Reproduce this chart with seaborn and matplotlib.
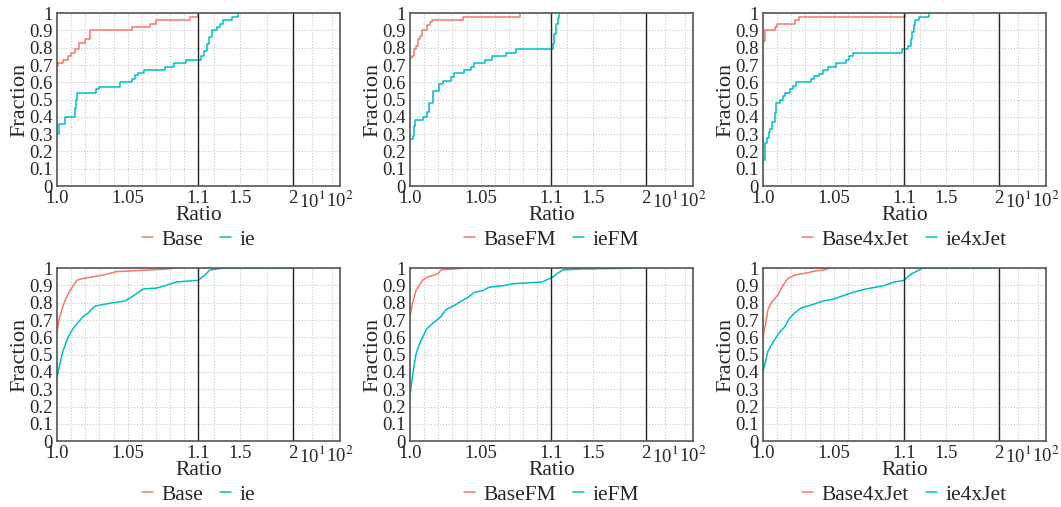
import matplotlib
matplotlib.use("Agg")
import matplotlib.pyplot as plt
import numpy as np
import seaborn as sns

# ratio (x) / fraction (y) step points
p1_base_x = [1.0, 1.0007, 1.0042, 1.0078, 1.0101, 1.0125, 1.0153, 1.0196, 1.0231, 1.0533, 1.066, 1.0703, 1.0943, 1.1]
p1_base_y = [0.694, 0.713, 0.73, 0.75, 0.77, 0.79, 0.83, 0.85, 0.903, 0.922, 0.94, 0.96, 0.98, 1.0]
p1_ie_x = [1.0, 1.0014, 1.0054, 1.0125, 1.0132, 1.0141, 1.015, 1.0274, 1.03, 1.0448, 1.0533, 1.055, 1.0573,
           1.0616, 1.076, 1.083, 1.091, 1.129, 1.151, 1.177, 1.202, 1.225, 1.273, 1.304, 1.33, 1.416, 1.474]
p1_ie_y = [0.30, 0.36, 0.40, 0.45, 0.50, 0.54, 0.54, 0.56, 0.575, 0.60, 0.62, 0.64, 0.655,
           0.67, 0.69, 0.71, 0.73, 0.75, 0.78, 0.82, 0.86, 0.90, 0.92, 0.94, 0.96, 0.98, 1.0]

p2_base_x = [1.0, 1.0014, 1.003, 1.0042, 1.006, 1.007, 1.0085, 1.0118, 1.0127, 1.014, 1.0155, 1.0372, 1.078]
p2_base_y = [0.742, 0.75, 0.79, 0.81, 0.85, 0.87, 0.905, 0.93, 0.93, 0.95, 0.963, 0.98, 1.0]
p2_ie_x = [1.0007, 1.0019, 1.0026, 1.0038, 1.0094, 1.0118, 1.0136, 1.016, 1.0207, 1.023, 1.0289, 1.031,
           1.0385, 1.0433, 1.0456, 1.0527, 1.0581, 1.068, 1.0746, 1.116, 1.126, 1.143, 1.159, 1.169]
p2_ie_y = [0.27, 0.29, 0.35, 0.38, 0.40, 0.43, 0.48, 0.55, 0.59, 0.61, 0.63, 0.655,
           0.67, 0.69, 0.71, 0.73, 0.75, 0.77, 0.79, 0.82, 0.88, 0.94, 0.97, 1.0]

p3_base_x = [1.0, 1.0014, 1.0082, 1.0089, 1.01, 1.0223, 1.0258, 1.101]
p3_base_y = [0.84, 0.90, 0.92, 0.92, 0.94, 0.96, 0.98, 1.0]
p3_ie_x = [1.0005, 1.0016, 1.0028, 1.0042, 1.0052, 1.0066, 1.0082, 1.0094, 1.0117, 1.0141, 1.0157, 1.0188,
           1.021, 1.0235, 1.034, 1.0364, 1.0399, 1.0423, 1.0458, 1.0516, 1.0587, 1.0606, 1.0634,
           1.098, 1.138, 1.16, 1.176, 1.19, 1.2, 1.24, 1.336]
p3_ie_y = [0.15, 0.25, 0.28, 0.31, 0.33, 0.37, 0.42, 0.48, 0.50, 0.52, 0.54, 0.56,
           0.58, 0.60, 0.62, 0.635, 0.65, 0.67, 0.69, 0.71, 0.73, 0.75, 0.77,
           0.79, 0.81, 0.85, 0.89, 0.93, 0.96, 0.98, 1.0]

p4_base_x = [1.0, 1.0014, 1.0042, 1.006, 1.0085, 1.0108, 1.014, 1.018, 1.025, 1.0325, 1.042, 1.054, 1.0656, 1.077, 1.0825]
p4_base_y = [0.63, 0.70, 0.78, 0.82, 0.86, 0.89, 0.93, 0.94, 0.95, 0.96, 0.98, 0.985, 0.99, 0.995, 1.0]
p4_ie_x = [1.0, 1.0019, 1.0042, 1.0078, 1.0113, 1.0184, 1.0219, 1.0267, 1.0325, 1.0396, 1.0479, 1.054, 1.061,
           1.0703, 1.077, 1.084, 1.0915, 1.1, 1.16, 1.209, 1.273, 1.33, 1.99]
p4_ie_y = [0.37, 0.44, 0.52, 0.60, 0.65, 0.72, 0.74, 0.78, 0.79, 0.80, 0.81, 0.84, 0.88,
           0.885, 0.90, 0.92, 0.925, 0.93, 0.96, 0.99, 0.995, 1.0, 1.0]

p5_base_x = [1.0, 1.0019, 1.0042, 1.0066, 1.0089, 1.0125, 1.017, 1.02, 1.022, 1.038]
p5_base_y = [0.72, 0.80, 0.87, 0.90, 0.93, 0.95, 0.96, 0.97, 0.99, 1.0]
p5_ie_x = [1.0, 1.0014, 1.0026, 1.0042, 1.0066, 1.0089, 1.0118, 1.016, 1.0219, 1.0254, 1.0325, 1.0384, 1.0407,
           1.0454, 1.0513, 1.056, 1.0666, 1.0725, 1.0934, 1.116, 1.157, 1.21, 1.37, 1.87]
p5_ie_y = [0.27, 0.35, 0.42, 0.50, 0.56, 0.60, 0.65, 0.68, 0.72, 0.76, 0.79, 0.82, 0.83,
           0.86, 0.87, 0.89, 0.90, 0.91, 0.92, 0.95, 0.97, 0.99, 0.995, 1.0]

p6_base_x = [1.0, 1.0019, 1.0035, 1.0059, 1.009, 1.011, 1.014, 1.0176, 1.0223, 1.0293, 1.0376, 1.0434, 1.047]
p6_base_y = [0.60, 0.68, 0.76, 0.80, 0.83, 0.85, 0.90, 0.94, 0.96, 0.97, 0.985, 0.99, 1.0]
p6_ie_x = [1.0, 1.0035, 1.007, 1.0117, 1.0153, 1.0188, 1.0223, 1.027, 1.0352, 1.0423, 1.0493, 1.0563,
           1.0634, 1.0728, 1.0798, 1.0857, 1.0927, 1.1, 1.129, 1.176, 1.24, 1.27, 1.94]
p6_ie_y = [0.40, 0.52, 0.57, 0.63, 0.66, 0.71, 0.74, 0.77, 0.79, 0.81, 0.82, 0.84,
           0.86, 0.88, 0.89, 0.90, 0.92, 0.93, 0.95, 0.97, 0.99, 1.0, 1.0]

panels = [
    (p1_base_x, p1_base_y, p1_ie_x, p1_ie_y, "Base", "ie"),
    (p2_base_x, p2_base_y, p2_ie_x, p2_ie_y, "BaseFM", "ieFM"),
    (p3_base_x, p3_base_y, p3_ie_x, p3_ie_y, "Base4xJet", "ie4xJet"),
    (p4_base_x, p4_base_y, p4_ie_x, p4_ie_y, "Base", "ie"),
    (p5_base_x, p5_base_y, p5_ie_x, p5_ie_y, "BaseFM", "ieFM"),
    (p6_base_x, p6_base_y, p6_ie_x, p6_ie_y, "Base4xJet", "ie4xJet"),
]

major_ticks = [1.0, 1.05, 1.1, 1.5, 2, 10, 100]
major_labels = ["1.0", "1.05", "1.1", "1.5", "2", "10$^1$", "10$^2$"]
minor_ticks = [1.01, 1.02, 1.03, 1.04, 1.06, 1.07, 1.08, 1.09, 1.25, 1.75, 50]
y_ticks = [0, 0.1, 0.2, 0.3, 0.4, 0.5, 0.6, 0.7, 0.8, 0.9, 1]
y_labels = ["0", "0.1", "0.2", "0.3", "0.4", "0.5", "0.6", "0.7", "0.8", "0.9", "1"]

RED = "#F8766D"
TEAL = "#00BFC4"

L2 = np.log10(2)


# piecewise x axis: [1,1.1] linear (half), [1.1,2] linear (third), [2,100] log (sixth)
def fwd(x):
    x = np.asarray(x, dtype=float)
    with np.errstate(all="ignore"):
        lg = np.log10(np.maximum(x, 1e-9))
    return np.where(x <= 1.1, (x - 1) / 0.1 * 3,
                    np.where(x <= 2, 3 + (x - 1.1) / 0.9 * 2,
                             5 + (lg - L2) / (2 - L2)))


def inv(u):
    u = np.asarray(u, dtype=float)
    with np.errstate(all="ignore"):
        lg = 10 ** (L2 + (u - 5) * (2 - L2))
    return np.where(u <= 3, 1 + u / 3 * 0.1,
                    np.where(u <= 5, 1.1 + (u - 3) / 2 * 0.9, lg))


sns.set_theme(style="white")
plt.rcParams["font.family"] = ["Liberation Serif", "DejaVu Serif"]
plt.rcParams["mathtext.fontset"] = "stix"

fig = plt.figure(figsize=(10.61, 5.07), dpi=100)
lefts = [0.0537, 0.3864, 0.7191]
bottoms = [0.633, 0.130]
w, h = 0.2667, 0.341

for i, (bx, by, ix, iy, lb, li) in enumerate(panels):
    ax = fig.add_axes([lefts[i % 3], bottoms[i // 3], w, h])
    ax.set_xscale("function", functions=(fwd, inv))
    # top row has few samples (visible steps), bottom row is dense
    ds = "steps-post" if i < 3 else "default"
    sns.lineplot(x=bx, y=by, ax=ax, color=RED, lw=1.1, drawstyle=ds,
                 estimator=None, sort=False, label=lb)
    sns.lineplot(x=ix, y=iy, ax=ax, color=TEAL, lw=1.1, drawstyle=ds,
                 estimator=None, sort=False, label=li)
    ax.axvline(1.1, color="#222222", lw=1.0)
    ax.axvline(2, color="#222222", lw=1.0)
    ax.set_xlim(1.0, 100)
    ax.set_ylim(0, 1)
    ax.set_xticks(major_ticks)
    ax.set_xticklabels(major_labels)
    ax.set_xticks(minor_ticks, minor=True)
    ax.set_yticks(y_ticks)
    ax.set_yticklabels(y_labels)
    ax.grid(True, which="both", color="#c8c8c8", ls=":", lw=0.8)
    ax.tick_params(axis="both", which="major", labelsize=13.5, length=3, width=0.8,
                   direction="out", pad=0, color="#444444")
    ax.tick_params(axis="x", which="minor", length=2, width=0.6, color="#444444")
    for s in ax.spines.values():
        s.set_color("#555555")
        s.set_linewidth(1.2)
    ax.set_xlabel("Ratio", fontsize=15.5, labelpad=-4)
    ax.set_ylabel("Fraction", fontsize=16, labelpad=0)
    ax.legend(loc="center", bbox_to_anchor=(0.5, -0.31), ncol=2, frameon=False,
              fontsize=15.5, handlelength=0.5, handletextpad=0.4, columnspacing=0.8,
              borderpad=0, borderaxespad=0)

fig.savefig("out.png", dpi=100)
